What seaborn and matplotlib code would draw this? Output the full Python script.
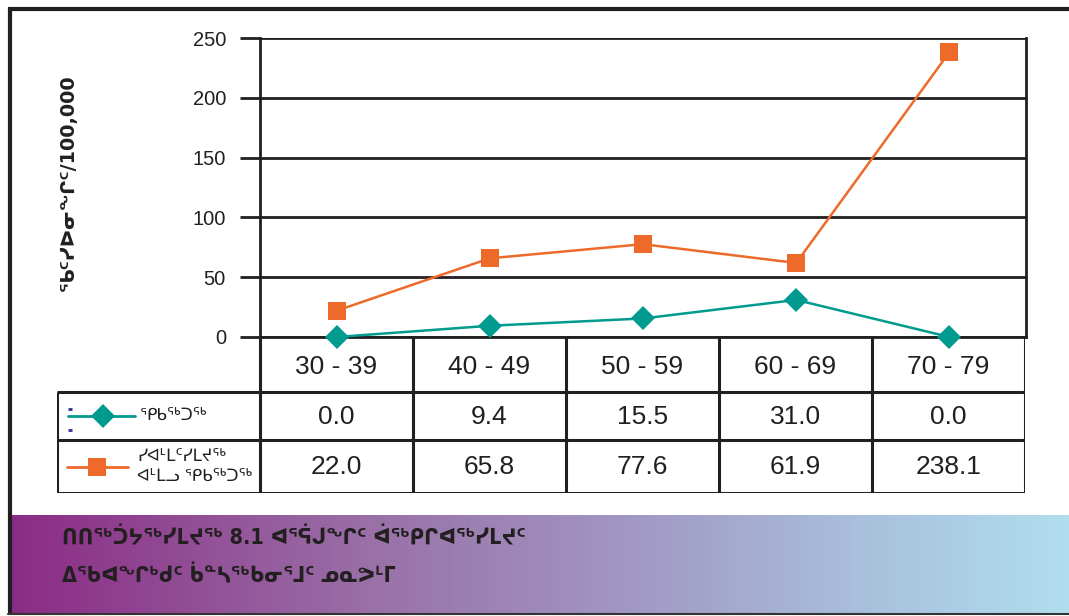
import numpy as np
import pandas as pd
import matplotlib
matplotlib.use("Agg")
import matplotlib.pyplot as plt
import seaborn as sns
from matplotlib.colors import LinearSegmentedColormap
from matplotlib.lines import Line2D

# data
age_groups = ["30 - 39", "40 - 49", "50 - 59", "60 - 69", "70 - 79"]
series_names = ["ᕿᑲᖅᑐᖅ", "ᓯᐊᒻᒪᑦᓯᒪᔪᖅ\nᐊᒻᒪᓗ ᕿᑲᖅᑐᖅ"]
localized = [0.0, 9.4, 15.5, 31.0, 0.0]
spread = [22.0, 65.8, 77.6, 61.9, 238.1]
y_ticks = [0, 50, 100, 150, 200, 250]
y_label = "ᖃᑦᓯᐅᓂᖏᑦ/100,000"
title_lines = ["ᑎᑎᖅᑑᔭᖅᓯᒪᔪᖅ 8.1 ᐊᕐᕌᒍᖏᑦ ᐋᖅᑭᒋᐊᖅᓯᒪᔪᑦ",
               "ᐃᖃᐊᖏᒃᑯᑦ ᑳᓐᓴᖅᑲᓂᕐᒧᑦ ᓄᓇᕗᒻᒥ"]

TEAL = "#009A8E"
ORANGE = "#EE6A2A"
INK = "#231F20"
W, H = 1069, 616

sns.set_theme(style="white")
plt.rcParams["font.family"] = ["Liberation Sans", "DejaVu Sans"]

df = pd.DataFrame({
    "pos": list(range(len(age_groups))) * 2,
    "rate": localized + spread,
    "series": [series_names[0]] * len(localized) + [series_names[1]] * len(spread),
})

fig = plt.figure(figsize=(W / 100, H / 100), dpi=100)

# background: frame + gradient title band
bg = fig.add_axes([0, 0, 1, 1], zorder=-5)
bg.set_xlim(0, W)
bg.set_ylim(H, 0)
bg.axis("off")
band = LinearSegmentedColormap.from_list(
    "band", [(0, "#8B2C86"), (0.35, "#9A72A8"), (0.6, "#A29AC5"),
             (0.8, "#A9BFDB"), (1, "#B0DEEE")])
bg.imshow(np.linspace(0, 1, 256)[None, :], cmap=band, aspect="auto",
          extent=[12, W, 614, 515])
bg.plot([10, 10], [7, 615], color=INK, lw=3, solid_capstyle="butt")
bg.plot([8, W], [9, 9], color=INK, lw=3, solid_capstyle="butt")
bg.plot([8, W], [614, 614], color="#333333", lw=1.5)
for i, line in enumerate(title_lines):
    bg.text(62, 538 + i * 38, line, fontsize=15.5, fontweight="bold",
            fontstretch="condensed", color=INK, va="center",
            family=["DejaVu Sans"])

# main chart
ax = fig.add_axes([260 / W, 1 - 337 / H, 766 / W, 299 / H])
sns.lineplot(data=df, x="pos", y="rate", hue="series", style="series",
             palette=[TEAL, ORANGE], markers=["D", "s"], dashes=False,
             markersize=13, markeredgewidth=0, linewidth=1.8, ax=ax,
             legend=False)
for ln, ms in zip(ax.lines, [12.2, 13.5]):
    ln.set_clip_on(False)
    ln.set_markersize(ms)
    ln.set_zorder(5)
ax.set_xlim(-0.5, len(age_groups) - 0.5)
ax.set_ylim(0, 250)
ax.set_yticks(y_ticks)
ax.set_xticks([])
ax.set_xlabel("")
ax.set_ylabel("")
ax.yaxis.grid(True, color=INK, lw=2)
ax.set_axisbelow(True)
ax.tick_params(axis="y", length=14.5, width=2, color=INK, pad=10,
               labelsize=14.5, labelcolor=INK, left=True)
for s in ["left", "right", "bottom"]:
    ax.spines[s].set_visible(True)
    ax.spines[s].set_color(INK)
    ax.spines[s].set_linewidth(2)
ax.spines["top"].set_visible(False)
fig.text(68 / W, 1 - 183 / H, y_label, rotation=90, fontsize=13.8,
         fontweight="bold", color=INK, ha="center", va="center",
         family=["DejaVu Sans"])

# data table under the chart
col_w = 766 / len(age_groups)
left_x = -0.5 - (260 - 57) / col_w
tab = fig.add_axes([57 / W, 1 - 493 / H, (1025 - 57) / W, (493 - 337) / H])
tab.set_xlim(left_x, len(age_groups) - 0.5)
tab.set_ylim(493, 337)
tab.axis("off")
rows = [337, 392, 440, 493]
tab.hlines(rows[1:], left_x, len(age_groups) - 0.5, color=INK, lw=2.2)
tab.vlines(np.arange(len(age_groups) + 1) - 0.5, rows[0], rows[-1],
           color=INK, lw=2.2)
tab.vlines([left_x], rows[1], rows[-1], color=INK, lw=2.2)
mids = [(rows[i] + rows[i + 1]) / 2 for i in range(3)]
for i, lab in enumerate(age_groups):
    tab.text(i, mids[0] + 2, lab, ha="center", va="center", fontsize=19,
             color=INK)
    tab.text(i, mids[1] + 1, f"{localized[i]:.1f}", ha="center",
             va="center", fontsize=19, color=INK)
    tab.text(i, mids[2], f"{spread[i]:.1f}", ha="center", va="center",
             fontsize=19, color=INK)


def px(x):
    return left_x + (x - 57) / col_w


tab.add_line(Line2D([px(68), px(135)], [mids[1], mids[1]], color=TEAL, lw=2))
tab.plot([px(103)], [mids[1]], marker="D", ms=12.2, color=TEAL, mew=0)
tab.plot([px(70), px(70)], [409, 430], ls="none", marker="_", ms=3,
         color="#2E3192", mew=2)
tab.text(px(140), mids[1], series_names[0], va="center", fontsize=12,
         color=INK, family=["DejaVu Sans"])
tab.add_line(Line2D([px(67), px(128)], [mids[2], mids[2]], color=ORANGE, lw=2))
tab.plot([px(97)], [mids[2]], marker="s", ms=13.5, color=ORANGE, mew=0)
tab.text(px(137), mids[2], series_names[1], va="center", fontsize=12,
         color=INK, family=["DejaVu Sans"], linespacing=1.25)

fig.savefig("out.png", dpi=100)
